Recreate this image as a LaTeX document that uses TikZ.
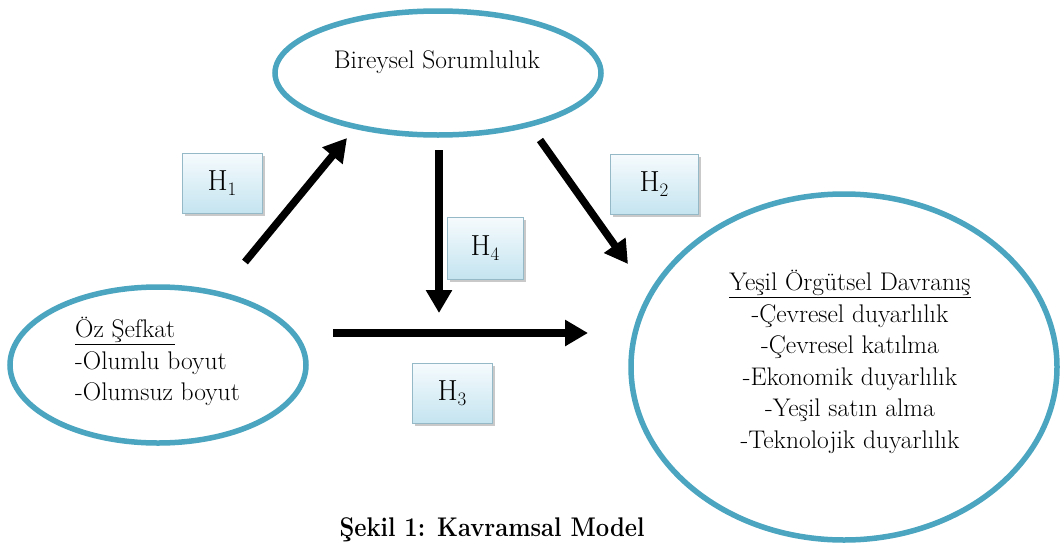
\documentclass[tikz,border=0pt]{standalone}
\usepackage{fontspec}
\usetikzlibrary{arrows.meta,shadows,shapes.geometric}
\definecolor{ringblue}{RGB}{75,165,192}
\definecolor{boxtop}{RGB}{246,251,253}
\definecolor{boxbot}{RGB}{196,228,240}
\definecolor{boxline}{RGB}{150,185,200}
\tikzset{
  ring/.style={draw=ringblue, line width=5.5pt, ellipse, inner sep=0pt},
  hbox/.style={draw=boxline, line width=0.8pt, top color=boxtop, bottom color=boxbot,
    minimum width=80pt, minimum height=60pt, inner sep=0pt,
    drop shadow={shadow xshift=3pt, shadow yshift=-3pt, fill=black!35, opacity=0.6},
    font=\fontsize{29}{30}\selectfont},
  bigarrow/.style={line width=7.5pt, -{Triangle[length=23pt,width=25pt]}},
  txt/.style={font=\fontsize{25.5}{31.5}\selectfont},
}
\newcommand{\hsub}[1]{H\raisebox{-5pt}{\fontsize{19}{19}\selectfont #1}}
\begin{document}
\begin{tikzpicture}[x=1pt,y=-1pt]
\useasboundingbox[fill=white] (0,0) rectangle (1064,549);
% ellipses
\node[ring, minimum width=326pt, minimum height=124pt] (bs) at (438,73) {};
\node[txt, anchor=base] (bstxt) at (437,68) {Bireysel Sorumluluk};
\node[ring, minimum width=296pt, minimum height=156pt] (oz) at (158,365) {};
\node[txt, align=left, anchor=north west, inner sep=0pt] (oztxt) at (75,317)
  {\underline{Öz Şefkat}\\-Olumlu boyut\\-Olumsuz boyut};
\node[ring, minimum width=426pt, minimum height=346pt] (yo) at (844,367) {};
\node[txt, align=center, anchor=north, inner sep=0pt] (yotxt) at (850,270)
  {\underline{Yeşil Örgütsel Davranış}\\-Çevresel duyarlılık\\-Çevresel katılma\\-Ekonomik duyarlılık\\-Yeşil satın alma\\-Teknolojik duyarlılık};
% hypothesis boxes
\node[hbox] (h1) at (222,183) {\hsub{1}};
\node[hbox, minimum width=88pt] (h2) at (654,184) {\hsub{2}};
\node[hbox] (h3) at (452,393) {\hsub{3}};
\node[hbox, minimum width=76pt, minimum height=62pt] (h4) at (485,248) {\hsub{4}};
% arrow endpoints
\coordinate (a1s) at (245,262);
\coordinate (a1e) at (347,138);
\coordinate (a2s) at (540,140);
\coordinate (a2e) at (628,264);
\coordinate (a3s) at (333,333);
\coordinate (a3e) at (588,333);
\coordinate (a4s) at (439,150);
\coordinate (a4e) at (439,313);
\draw[bigarrow] (a1s) -- (a1e);
\draw[bigarrow] (a2s) -- (a2e);
\draw[bigarrow] (a3s) -- (a3e);
\draw[bigarrow] (a4s) -- (a4e);
% caption
\node[font=\bfseries\fontsize{27}{30}\selectfont, anchor=base, inner sep=0pt] (cap) at (492,536) {\scalebox{0.88}[1]{Şekil 1: Kavramsal Model}};
\end{tikzpicture}
\end{document}
